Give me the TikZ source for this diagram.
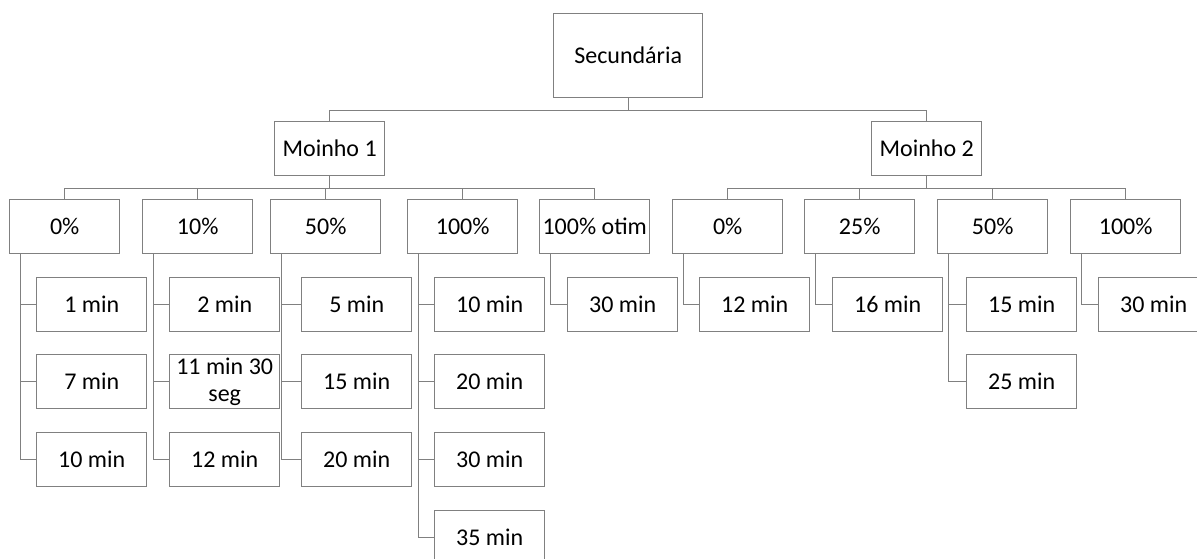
\documentclass[tikz,border=0pt]{standalone}
\usepackage{fontspec}
\setmainfont{Carlito}
\definecolor{linegray}{RGB}{128,128,128}
\begin{document}
\begin{tikzpicture}[x=0.5pt,y=-0.5pt,
  box/.style={draw=linegray, line width=0.7pt, fill=white, minimum width=55pt,
    minimum height=27pt, inner sep=1pt, anchor=north west, align=center,
    font=\fontsize{12}{13}\selectfont},
  link/.style={draw=linegray, line width=0.7pt}]
\useasboundingbox (0,0) rectangle (1197,558);

% root and mills
\node[box, minimum width=74.5pt, minimum height=42pt] (sec) at (553,13) {Secundária};
\node[box] (m1) at (274,121) {Moinho 1};
\node[box] (m2) at (871,121) {Moinho 2};

% percentage level
\node[box] (a0)   at (9,199)    {0\%};
\node[box] (a10)  at (142,199)  {10\%};
\node[box] (a50)  at (270,199)  {50\%};
\node[box] (a100) at (407,199)  {100\%};
\node[box] (aot)  at (539,199)  {100\% otim};
\node[box] (b0)   at (672,199)  {0\%};
\node[box] (b25)  at (804,199)  {25\%};
\node[box] (b50)  at (937,199)  {50\%};
\node[box] (b100) at (1070,199) {100\%};

% times
\node[box] (a0x)   at (36,277)  {1 min};
\node[box] (a0y)   at (36,354)  {7 min};
\node[box] (a0z)   at (36,432)  {10 min};
\node[box] (a10x)  at (169,277) {2 min};
\node[box, font=\fontsize{12}{13.5}\selectfont] (a10y) at (169,354) {11 min 30\\seg};
\node[box] (a10z)  at (169,432) {12 min};
\node[box] (a50x)  at (301,277) {5 min};
\node[box] (a50y)  at (301,354) {15 min};
\node[box] (a50z)  at (301,432) {20 min};
\node[box] (a100w) at (434,277) {10 min};
\node[box] (a100x) at (434,354) {20 min};
\node[box] (a100y) at (434,432) {30 min};
\node[box] (a100z) at (434,510) {35 min};
\node[box] (aotx)  at (567,277) {30 min};
\node[box] (b0x)   at (699,277) {12 min};
\node[box] (b25x)  at (832,277) {16 min};
\node[box] (b50x)  at (966,277) {15 min};
\node[box] (b50y)  at (966,354) {25 min};
\node[box] (b100x) at (1098,277) {30 min};

% root to mills
\draw[link] (sec.south) -- ++(0,12) -| (m1.north);
\draw[link] (sec.south) -- ++(0,12) -| (m2.north);

% mills to percentages
\foreach \c in {a0,a10,a50,a100,aot}
  \draw[link] (m1.south) -- ++(0,12) -| (\c.north);
\foreach \c in {b0,b25,b50,b100}
  \draw[link] (m2.south) -- ++(0,12) -| (\c.north);

% percentages to times
\foreach \p/\c in {a0/a0x,a0/a0y,a0/a0z,a10/a10x,a10/a10y,a10/a10z,
    a50/a50x,a50/a50y,a50/a50z,a100/a100w,a100/a100x,a100/a100y,a100/a100z,
    aot/aotx,b0/b0x,b25/b25x,b50/b50x,b50/b50y,b100/b100x}
  \draw[link] (\p.south west) ++(11.5,0) |- (\c.west);
\end{tikzpicture}
\end{document}
